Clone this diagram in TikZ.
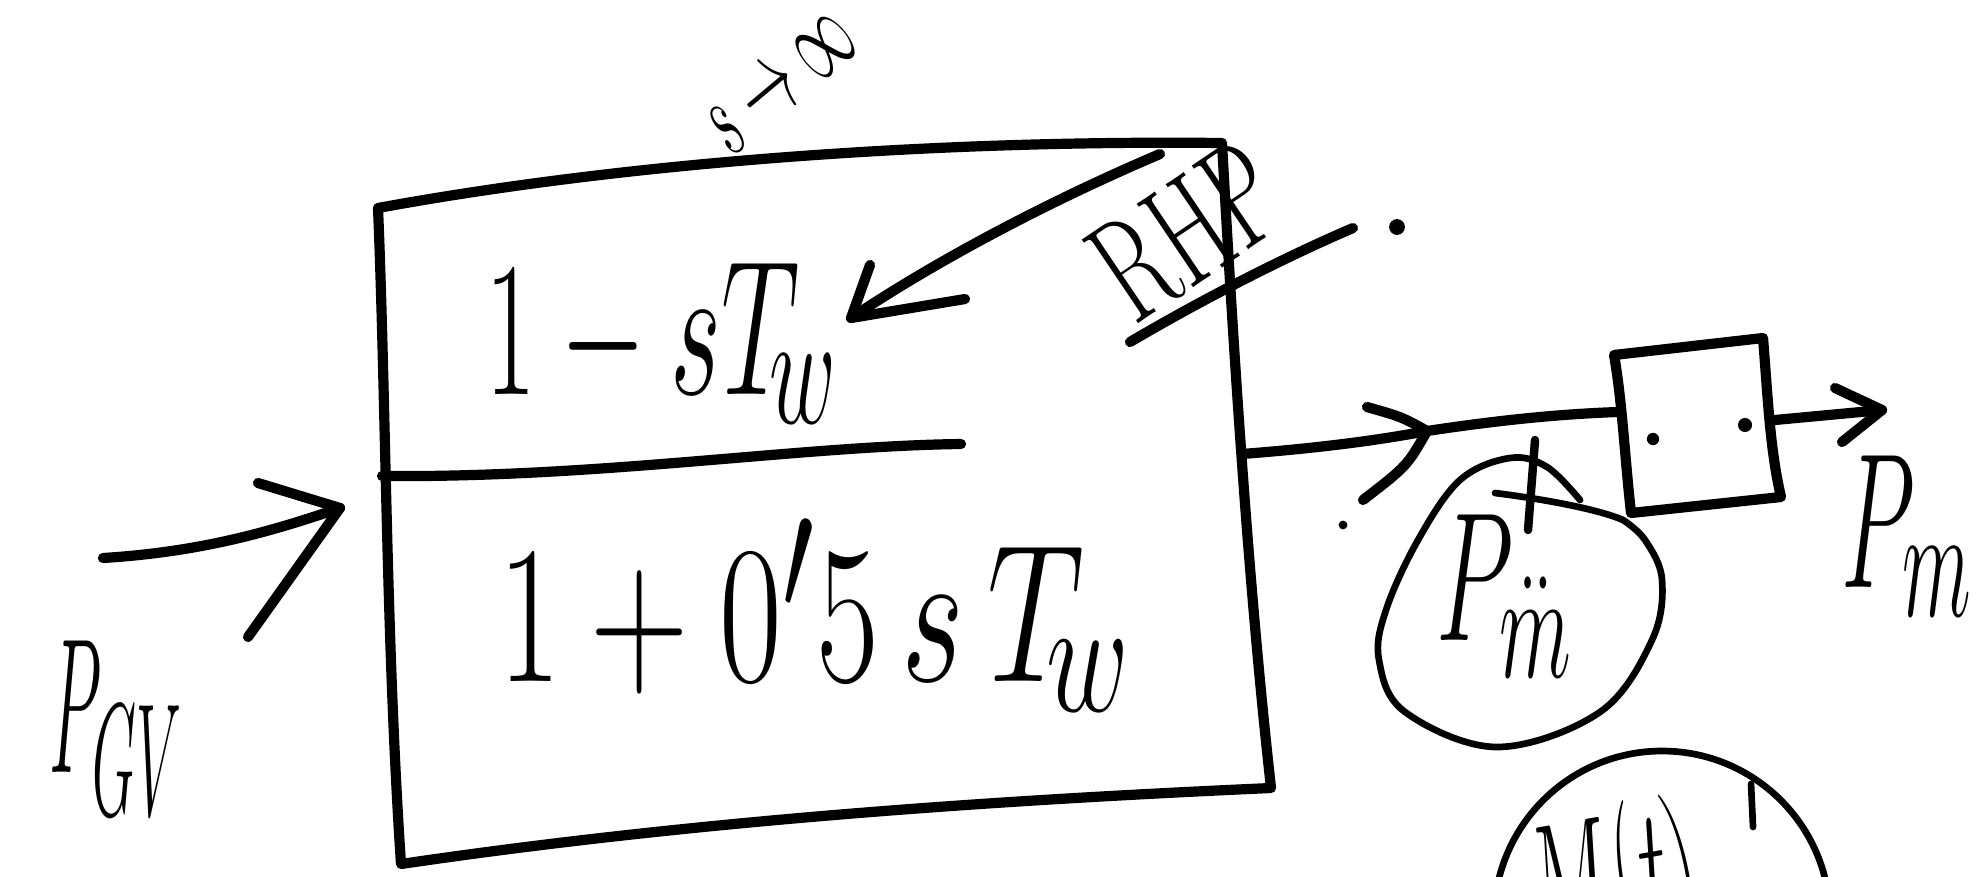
\documentclass[tikz,border=0pt]{standalone}
\begin{document}
\begin{tikzpicture}[x=0.01cm,y=-0.01cm,line cap=round,line join=round,
  ink/.style={line width=2.9pt},
  fine/.style={line width=1.9pt},
  txt/.style={inner sep=0pt,outer sep=0pt,font=\fontsize{24.88}{30}\selectfont},
  dotmark/.style={fill,circle,inner sep=0pt,minimum size=#1}]
\useasboundingbox (0,0) rectangle (1977,876);
\clip (0,0) rectangle (1977,876);

% ---------- main block (hand-drawn quadrilateral) ----------
\coordinate (TL) at (378,208);
\coordinate (TR) at (1222,143);
\coordinate (BR) at (1271,788);
\coordinate (BL) at (401,864);
\draw[ink] (TL) .. controls (640,160) and (950,140) .. (TR)
  .. controls (1235,380) and (1250,600) .. (BR)
  .. controls (1000,800) and (700,820) .. (BL)
  .. controls (386,640) and (386,400) .. cycle;

% fraction bar
\coordinate (barL) at (382,476);
\coordinate (barR) at (961,444);
\draw[ink] (barL) .. controls (600,478) and (800,446) .. (barR);

% numerator / denominator
\node[txt,xscale=1.26,yscale=2.2] (num) at (662,343) {$1-sT_{\!w}$};
\node[txt,xscale=1.56,yscale=2.25] (den) at (815,615) {$1+0'5\,s\,T_{\!w}$};

% ---------- labels ----------
\node[txt,rotate=40,xscale=0.65,yscale=1.3] (sinf) at (782,84) {$s\to\infty$};
\node[txt,font=\fontsize{42}{46}\selectfont,rotate=34,xscale=0.65] (rhp) at (1187,232) {RHP};
\node[txt,xscale=0.78,yscale=2.2] (pgv) at (116,728) {$P_{GV}$};
\node[txt,xscale=1.1,yscale=2.2] (pm) at (1907,536) {$P_m$};

% RHP arrow into numerator
\coordinate (rhpS) at (1160,154);
\coordinate (rhpT) at (851,318);
\draw[ink] (rhpS) .. controls (1040,205) and (930,265) .. (rhpT);
\draw[ink] ([shift={(19,-53)}]rhpT) -- (rhpT) -- ([shift={(114,-19)}]rhpT);

% strike through RHP and dot
\coordinate (stA) at (1130,342);
\coordinate (stB) at (1353,228);
\draw[ink] (stA) .. controls (1210,295) and (1290,255) .. (stB);
\node[dotmark=4.5pt] (d1) at (1397,227) {};

% ---------- input arrow ----------
\coordinate (inS) at (103,558);
\coordinate (inT) at (340,508);
\draw[ink] (inS) .. controls (200,552) and (270,532) .. (inT);
\draw[ink] ([shift={(-82,-25)}]inT) -- (inT) -- ([shift={(-92,129)}]inT);

% ---------- small block ----------
\coordinate (sTL) at (1614,355);
\coordinate (sTR) at (1763,338);
\coordinate (sBR) at (1781,497);
\coordinate (sBL) at (1631,513);
\draw[ink] (sTL) -- (sTR) .. controls (1768,400) and (1770,450) .. (sBR)
  -- (sBL) .. controls (1625,460) and (1622,400) .. cycle;
\node[dotmark=3.5pt] (sd1) at (1653,439) {};
\node[dotmark=4pt] (sd2) at (1745,425) {};

% output of main block to small block, arrowhead mid-line
\coordinate (oS) at (1242,454);
\coordinate (oT) at (1427,431);
\coordinate (oE) at (1618,412);
\draw[ink] (oS) .. controls (1320,448) and (1380,440) .. (oT)
  .. controls (1500,420) and (1560,414) .. (oE);
\draw[ink] ([shift={(-60,-24)}]oT) .. controls ([shift={(-25,-14)}]oT) .. (oT)
  .. controls ([shift={(-20,35)}]oT) .. ([shift={(-64,69)}]oT);
\node[dotmark=2.5pt] (d2) at (1343,525) {};

% output of small block
\coordinate (pS) at (1775,420);
\coordinate (pT) at (1882,410);
\draw[ink] (pS) -- (pT);
\draw[ink] ([shift={(-47,-22)}]pT) -- (pT) -- ([shift={(-40,32)}]pT);

% ---------- annotation bubble 1 ----------
\draw[fine] plot[smooth,tension=0.6] coordinates {(1580,500) (1547,467) (1510,458) (1460,480) (1418,540) (1386,610) (1379,660) (1405,712) (1497,747) (1600,712) (1652,640) (1662,580) (1645,540) (1623,520)};
\draw[fine] (1495,493) .. controls (1550,500) and (1600,510) .. (1623,520);
\draw[line width=2.4pt] (1535,440) -- (1528,530);
\node[txt,xscale=1.15,yscale=2.1] (pmdd) at (1505,596) {$P_{\ddot m}$};

% ---------- annotation bubble 2 (cut off) ----------
\draw[fine] (1662,919) circle[radius=168];
\draw[fine] (1751,784) -- (1753,827);
\node[txt,rotate=10,xscale=0.904,yscale=2.01,anchor=north] (mt) at (1600,805) {$M(t)$};
\end{tikzpicture}
\end{document}
